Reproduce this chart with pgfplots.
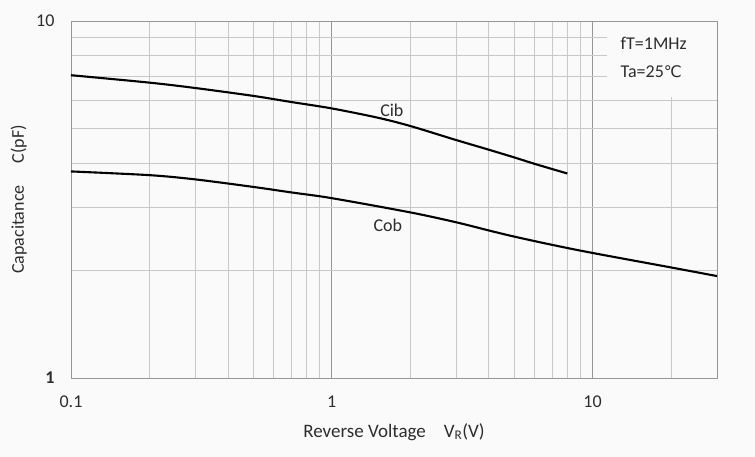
\documentclass[border=0pt]{standalone}
\usepackage{fontspec}
\setmainfont{Carlito}
\newfontfamily\dejavu{DejaVu Sans}
\usepackage{pgfplots}
\pgfplotsset{compat=1.18}
\definecolor{bg}{RGB}{250,250,250}
\definecolor{majgrid}{RGB}{150,150,150}
\definecolor{mingrid}{RGB}{200,200,200}
\definecolor{txt}{RGB}{45,45,45}
\begin{document}
\begin{tikzpicture}[x=1pt,y=1pt]
\fill[bg] (0,0) rectangle (755,457);
\useasboundingbox (0,0) rectangle (755,457);
\begin{axis}[
  at={(71pt,79pt)}, anchor=south west,
  width=646pt, height=357pt, scale only axis,
  xmode=log, ymode=log,
  xmin=0.1, xmax=30, ymin=1, ymax=10,
  log basis x=10, log basis y=10,
  xtick={0.1,1,10}, xticklabels={0.1,1,10},
  ytick={1,10}, yticklabels={\textbf{1},10},
  minor xtick={0.2,0.3,0.4,0.5,0.6,0.7,0.8,0.9,2,3,4,5,6,7,8,9,20},
  minor ytick={2,3,4,5,6,7,8,9},
  grid=both,
  major grid style={majgrid, line width=0.9pt},
  minor grid style={mingrid, line width=0.9pt},
  axis line style={majgrid, line width=0.9pt},
  major tick length=0pt, minor tick length=0pt,
  tick label style={font=\fontsize{18}{21}\selectfont, text=txt},
  xticklabel style={anchor=center, yshift=-24pt},
  yticklabel style={anchor=east, xshift=-13pt},
  xlabel={\fontsize{19}{22}\selectfont Reverse Voltage\hspace{18pt}V\textsubscript{R}(V)},
  ylabel={\fontsize{18}{21}\selectfont Capacitance\hspace{22pt}C(pF)},
  xlabel style={text=txt, at={(axis description cs:0.5,-0.1653)}, anchor=base},
  ylabel style={text=txt, at={(axis description cs:-0.0728,0.5)}, anchor=base},
  clip=false,
]
\fill[bg] (axis cs:11.4,6.14) rectangle (axis cs:30,10);
\draw[majgrid, line width=0.9pt] (rel axis cs:0,0) rectangle (rel axis cs:1,1);
\addplot[black, line width=2.1pt, smooth] coordinates {
 (0.1,7.05) (0.2,6.72) (0.3,6.49) (0.5,6.17) (0.7,5.93) (1,5.69)
 (1.5,5.36) (2,5.08) (3,4.64) (4,4.36) (5,4.15) (6,3.98) (8,3.74)};
\addplot[black, line width=2.1pt, smooth] coordinates {
 (0.1,3.79) (0.2,3.70) (0.3,3.60) (0.5,3.43) (0.7,3.31) (1,3.19)
 (2,2.91) (3,2.73) (4,2.59) (5,2.49) (7,2.36) (10,2.24) (20,2.04) (30,1.93)};
\node[font=\fontsize{18}{21}\selectfont, text=txt] at (axis cs:1.70,5.63) {Cib};
\node[font=\fontsize{18}{21}\selectfont, text=txt] at (axis cs:1.64,2.68) {Cob};
\node[font=\fontsize{18}{21}\selectfont, text=txt, anchor=west, inner sep=0pt] at (axis cs:12.8,8.68) {fT=1MHz};
\node[font=\fontsize{18}{21}\selectfont, text=txt, anchor=west, inner sep=0pt] at (axis cs:12.8,7.2) {Ta=25{\dejavu\fontsize{16}{19}\selectfont ℃}};
\end{axis}
\end{tikzpicture}
\end{document}
